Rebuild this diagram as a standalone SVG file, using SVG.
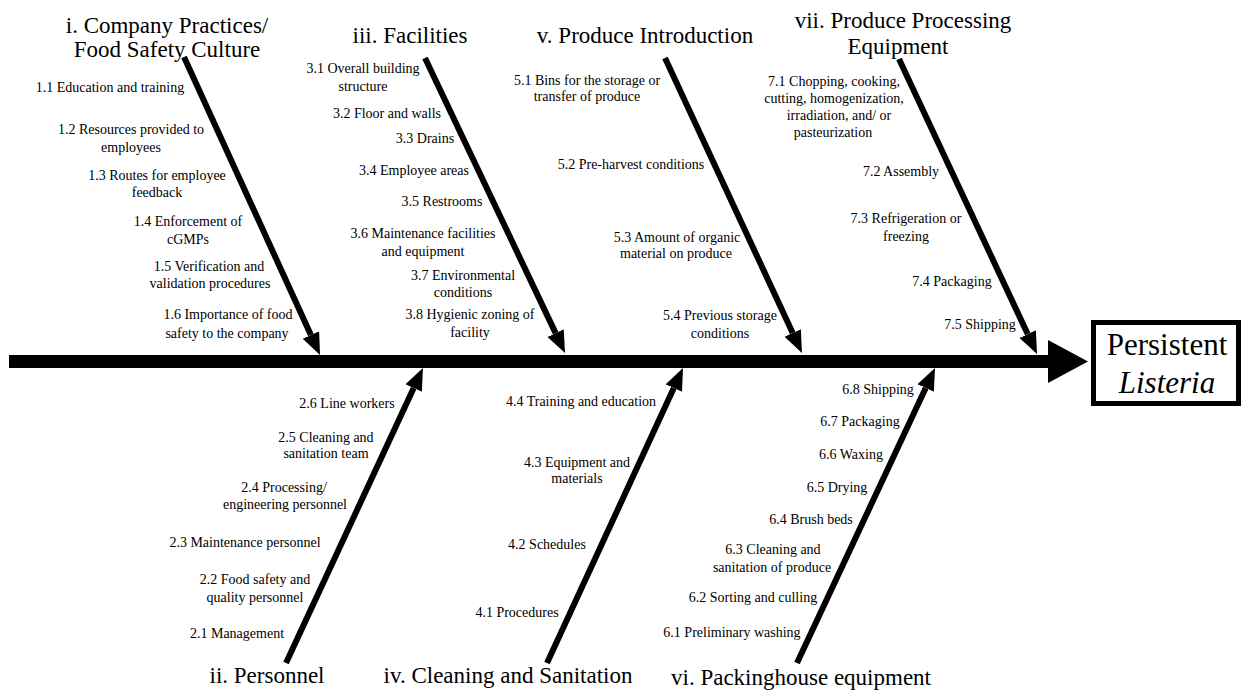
<svg xmlns="http://www.w3.org/2000/svg" width="1241" height="691" viewBox="0 0 1241 691">
<style>
text{font-family:"Liberation Serif","Times New Roman",serif;fill:#000;text-anchor:middle}
.t{font-size:23px}
.s{font-size:14px}
.b{stroke:#000;stroke-width:6;fill:none}
</style>
<defs>
<marker id="ah" markerUnits="userSpaceOnUse" markerWidth="24" markerHeight="20" refX="0" refY="9" orient="auto" viewBox="0 0 24 20">
<path d="M0,0 L22,9 L0,18 z" fill="#000"/>
</marker>
</defs>
<rect x="0" y="0" width="1241" height="691" fill="#fff"/>
<g id="connectors">
<rect x="9" y="355" width="1041" height="13" fill="#000"/>
<path d="M1048,340 L1088,361.5 L1048,383 z" fill="#000"/>
<line class="b" x1="184" y1="57" x2="310.9" y2="335" marker-end="url(#ah)"/>
<line class="b" x1="425" y1="58" x2="555.6" y2="333.1" marker-end="url(#ah)"/>
<line class="b" x1="665" y1="58" x2="792.7" y2="333" marker-end="url(#ah)"/>
<line class="b" x1="899" y1="59" x2="1027.7" y2="334.1" marker-end="url(#ah)"/>
<line class="b" x1="286" y1="663" x2="413.7" y2="388" marker-end="url(#ah)"/>
<line class="b" x1="547" y1="663" x2="673.8" y2="388" marker-end="url(#ah)"/>
<line class="b" x1="797" y1="663" x2="925.7" y2="388" marker-end="url(#ah)"/>
</g>
<g id="effect">
<rect x="1093.5" y="322.5" width="145" height="81" fill="#fff" stroke="#000" stroke-width="5"/>
<text x="1167" y="355" style="font-size:31px">Persistent</text>
<text x="1167" y="393" style="font-size:31px;font-style:italic">Listeria</text>
</g>
<g id="cat1">
<text class="t" x="167" y="33">i. Company Practices/</text>
<text class="t" x="167" y="57">Food Safety Culture</text>
<text class="s" x="110" y="92">1.1 Education and training</text>
<text class="s" x="131" y="134">1.2 Resources provided to</text>
<text class="s" x="131" y="152">employees</text>
<text class="s" x="157" y="180">1.3 Routes for employee</text>
<text class="s" x="157" y="197">feedback</text>
<text class="s" x="188" y="226">1.4 Enforcement of</text>
<text class="s" x="188" y="244">cGMPs</text>
<text class="s" x="209" y="271">1.5 Verification and</text>
<text class="s" x="210" y="288">validation procedures</text>
<text class="s" x="228" y="319">1.6 Importance of food</text>
<text class="s" x="227" y="338">safety to the company</text>
</g>
<g id="cat3">
<text class="t" x="410" y="43">iii. Facilities</text>
<text class="s" x="363" y="73">3.1 Overall building</text>
<text class="s" x="363" y="91">structure</text>
<text class="s" x="387" y="118">3.2 Floor and walls</text>
<text class="s" x="425" y="143">3.3 Drains</text>
<text class="s" x="414" y="175">3.4 Employee areas</text>
<text class="s" x="442" y="206">3.5 Restrooms</text>
<text class="s" x="423" y="238">3.6 Maintenance facilities</text>
<text class="s" x="423" y="256">and equipment</text>
<text class="s" x="463" y="280">3.7 Environmental</text>
<text class="s" x="463" y="297">conditions</text>
<text class="s" x="470" y="319">3.8 Hygienic zoning of</text>
<text class="s" x="470" y="337">facility</text>
</g>
<g id="cat5">
<text class="t" x="645" y="43">v. Produce Introduction</text>
<text class="s" x="587" y="85">5.1 Bins for the storage or</text>
<text class="s" x="587" y="101">transfer of produce</text>
<text class="s" x="631" y="169">5.2 Pre-harvest conditions</text>
<text class="s" x="677" y="242">5.3 Amount of organic</text>
<text class="s" x="676" y="258">material on produce</text>
<text class="s" x="720" y="320">5.4 Previous storage</text>
<text class="s" x="720" y="338">conditions</text>
</g>
<g id="cat7">
<text class="t" x="903" y="28">vii. Produce Processing</text>
<text class="t" x="898" y="54">Equipment</text>
<text class="s" x="834" y="86">7.1 Chopping, cooking,</text>
<text class="s" x="834" y="103">cutting, homogenization,</text>
<text class="s" x="839" y="120">irradiation, and/ or</text>
<text class="s" x="833" y="137">pasteurization</text>
<text class="s" x="901" y="176">7.2 Assembly</text>
<text class="s" x="906" y="223">7.3 Refrigeration or</text>
<text class="s" x="906" y="241">freezing</text>
<text class="s" x="952" y="286">7.4 Packaging</text>
<text class="s" x="980" y="329">7.5 Shipping</text>
</g>
<g id="cat2">
<text class="t" x="267" y="683">ii. Personnel</text>
<text class="s" x="347" y="408">2.6 Line workers</text>
<text class="s" x="326" y="442">2.5 Cleaning and</text>
<text class="s" x="326" y="458">sanitation team</text>
<text class="s" x="284" y="492">2.4 Processing/</text>
<text class="s" x="285" y="509">engineering personnel</text>
<text class="s" x="245" y="547">2.3 Maintenance personnel</text>
<text class="s" x="255" y="584">2.2 Food safety and</text>
<text class="s" x="255" y="602">quality personnel</text>
<text class="s" x="237" y="638">2.1 Management</text>
</g>
<g id="cat4">
<text class="t" x="508" y="683">iv. Cleaning and Sanitation</text>
<text class="s" x="581" y="406">4.4 Training and education</text>
<text class="s" x="577" y="467">4.3 Equipment and</text>
<text class="s" x="577" y="483">materials</text>
<text class="s" x="547" y="549">4.2 Schedules</text>
<text class="s" x="517" y="617">4.1 Procedures</text>
</g>
<g id="cat6">
<text class="t" x="801" y="685">vi. Packinghouse equipment</text>
<text class="s" x="878" y="394">6.8 Shipping</text>
<text class="s" x="860" y="426">6.7 Packaging</text>
<text class="s" x="851" y="459">6.6 Waxing</text>
<text class="s" x="837" y="492">6.5 Drying</text>
<text class="s" x="811" y="524">6.4 Brush beds</text>
<text class="s" x="773" y="554">6.3 Cleaning and</text>
<text class="s" x="772" y="572">sanitation of produce</text>
<text class="s" x="753" y="602">6.2 Sorting and culling</text>
<text class="s" x="732" y="637">6.1 Preliminary washing</text>
</g>
</svg>
